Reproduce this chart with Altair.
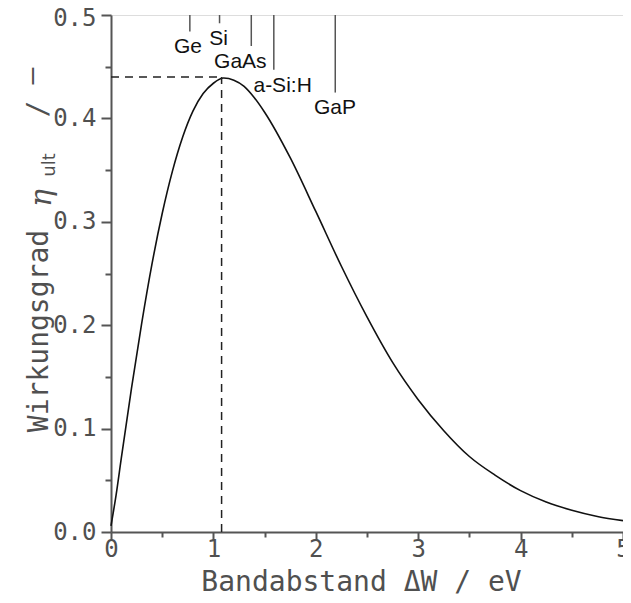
import altair as alt
import pandas as pd

# --- curve: band gap (eV) vs. ultimate efficiency ---
gap_ev = [0.0, 0.05, 0.1, 0.2, 0.3, 0.4, 0.5, 0.6, 0.7, 0.8, 0.9, 1.0, 1.1,
          1.2, 1.3, 1.4, 1.5, 1.75, 2.0, 2.25, 2.5, 2.75, 3.0, 3.25, 3.5,
          3.75, 4.0, 4.25, 4.5, 4.75, 5.0]
eta_ult = [0.006, 0.036, 0.071, 0.139, 0.202, 0.259, 0.308, 0.349, 0.382,
           0.407, 0.424, 0.434, 0.439, 0.437, 0.431, 0.420, 0.406, 0.362,
           0.310, 0.257, 0.208, 0.164, 0.128, 0.098, 0.073, 0.055, 0.040,
           0.029, 0.021, 0.015, 0.011]

# --- peak marker (dashed lines) ---
peak_x = [1.08]
peak_y = [0.44]

# --- materials: band-gap markers hanging from the top frame ---
materials = ["Ge", "Si", "GaAs", "a-Si:H", "GaP"]
mat_gap = [0.77, 1.06, 1.37, 1.59, 2.19]
mat_line_end = [0.484, 0.492, 0.470, 0.447, 0.425]
label_x = [0.752, 1.050, 1.263, 1.676, 2.187]
label_y = [0.469, 0.477, 0.455, 0.4315, 0.410]

x_ticks = [0, 0.5, 1, 1.5, 2, 2.5, 3, 3.5, 4, 4.5, 5]
y_ticks = [0, 0.05, 0.1, 0.15, 0.2, 0.25, 0.3, 0.35, 0.4, 0.45, 0.5]

AX_COL = "#555555"
TXT_COL = "#505050"
MONO = "DejaVu Sans Mono"

curve_df = pd.DataFrame({"gap": gap_ev, "eta": eta_ult})
peak_df = pd.DataFrame({"x0": [0.0], "px": peak_x, "y0": [0.0], "py": peak_y})
mat_df = pd.DataFrame({"name": materials, "gap": mat_gap, "end": mat_line_end,
                       "top": [0.5] * len(materials), "lx": label_x, "ly": label_y})

x_scale = alt.Scale(domain=[0, 5], nice=False, zero=False)
y_scale = alt.Scale(domain=[0, 0.5], nice=False, zero=False)

x_axis = alt.Axis(
    values=x_ticks,
    labelExpr="datum.value % 1 === 0 ? format(datum.value, 'd') : ''",
    tickSize={"condition": {"test": "datum.value % 1 === 0", "value": 8}, "value": 5},
    tickColor=AX_COL, tickWidth=2, domainColor=AX_COL, domainWidth=2,
    labelFont=MONO, labelFontSize=24, labelColor=TXT_COL, labelPadding=-3,
    labelOverlap=False, labelFlush=False, grid=False,
    title="Bandabstand ΔW  /  eV", titleFont=MONO, titleFontSize=28,
    titleFontWeight="normal", titleColor=TXT_COL, titleX=250, titleY=50,
    titleBaseline="middle", titleAlign="center",
)
y_axis = alt.Axis(
    values=y_ticks,
    labelExpr="round(datum.value * 100) % 10 === 0 ? format(datum.value, '.1f') : ''",
    tickSize={"condition": {"test": "round(datum.value * 100) % 10 === 0", "value": 10}, "value": 6},
    labelOffset={"condition": {"test": "datum.value >= 0.5", "value": 3}, "value": 0},
    tickColor=AX_COL, tickWidth=2, domainColor=AX_COL, domainWidth=2,
    labelFont=MONO, labelFontSize=24, labelColor=TXT_COL, labelPadding=5,
    labelOverlap=False, labelFlush=False, grid=False, title=None,
)

curve = alt.Chart(curve_df).mark_line(color="#111111", strokeWidth=1.6, interpolate="monotone").encode(
    x=alt.X("gap:Q", scale=x_scale, axis=x_axis),
    y=alt.Y("eta:Q", scale=y_scale, axis=y_axis),
)

dash_h = alt.Chart(peak_df).mark_rule(color="#222222", strokeWidth=1.5, strokeDash=[8, 6]).encode(
    x="x0:Q", x2="px:Q", y="py:Q"
)
dash_v = alt.Chart(peak_df).mark_rule(color="#222222", strokeWidth=1.5, strokeDash=[8, 6]).encode(
    x="px:Q", y="y0:Q", y2="py:Q"
)

mat_lines = alt.Chart(mat_df).mark_rule(color=AX_COL, strokeWidth=1.5).encode(
    x="gap:Q", y="end:Q", y2="top:Q"
)
mat_text = alt.Chart(mat_df).mark_text(
    font="Liberation Sans", fontSize=21, color="#111111", align="center", baseline="middle"
).encode(x="lx:Q", y="ly:Q", text="name:N")


# y-axis title assembled from pieces (subscript "ult")
def ytxt(txt, xv, yv, size, font=MONO, style="normal"):
    return alt.Chart(pd.DataFrame({"t": [txt]})).mark_text(
        font=font, fontSize=size, fontStyle=style, color=TXT_COL, angle=270,
        align="center", baseline="middle"
    ).encode(text="t:N", x=alt.value(xv), y=alt.value(yv))


y_title = (
    ytxt("Wirkungsgrad", -71, 316, 28)
    + ytxt("η", -69, 183, 30, "DejaVu Serif", "italic")
    + ytxt("ult", -61, 150, 18, "DejaVu Sans")
    + ytxt("/", -72, 94, 28)
    + ytxt("–", -78, 61, 28)
)

chart = (curve + dash_h + dash_v + mat_lines + mat_text + y_title).properties(
    width=512, height=517,
    autosize=alt.AutoSizeParams(type="none"),
    padding={"left": 103, "top": 7, "right": 0, "bottom": 70},
).configure_view(stroke=AX_COL, strokeWidth=2).configure(background="white")

chart.save("out.html", embed_options={"renderer": "svg", "actions": False})
